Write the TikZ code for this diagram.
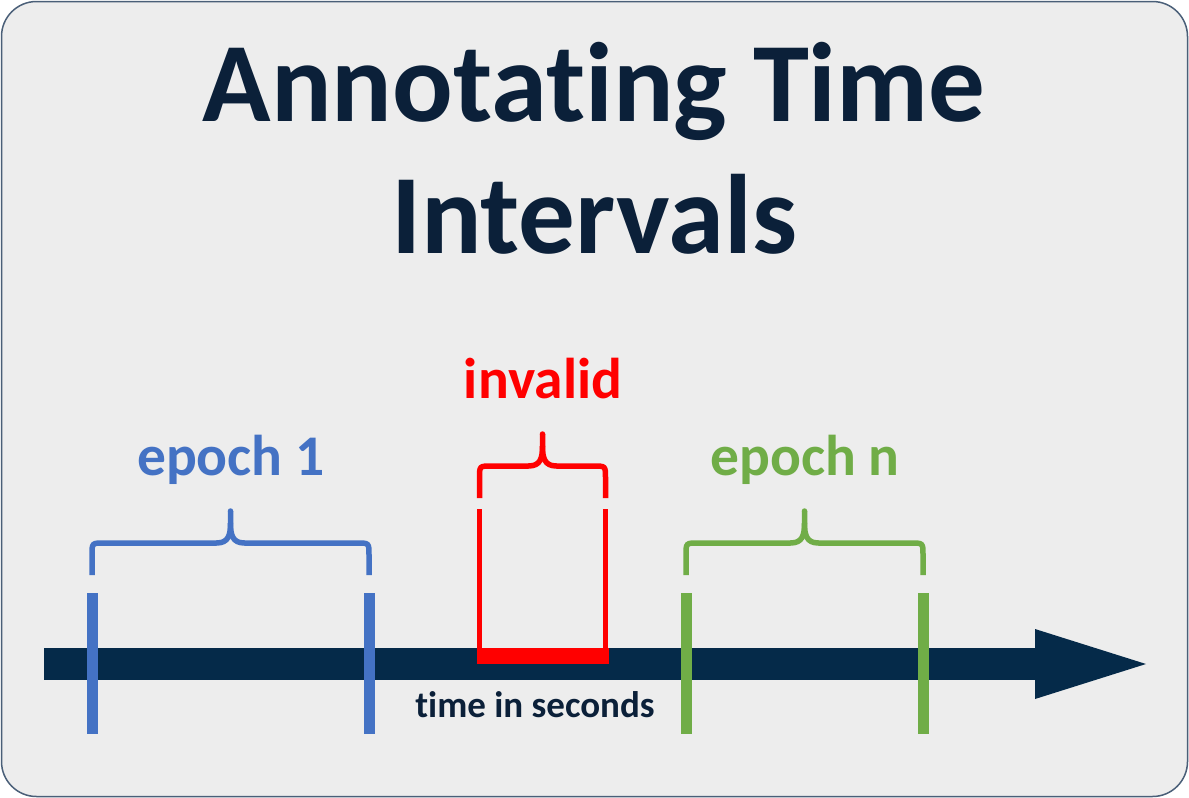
\documentclass[tikz,border=0pt]{standalone}
\usepackage{fontspec}
\setmainfont{Carlito}[Ligatures=NoCommon]
\usepackage{tikz}
\usetikzlibrary{calc}

\definecolor{framebg}{HTML}{EDEDED}
\definecolor{frameln}{HTML}{4A5F78}
\definecolor{titlecol}{HTML}{0B2039}
\definecolor{axiscol}{HTML}{052A49}
\definecolor{epblue}{HTML}{4472C4}
\definecolor{epgreen}{HTML}{70AD47}
\definecolor{invred}{HTML}{FF0000}

\begin{document}
\begin{tikzpicture}[
    x=1pt, y=-1pt,
    frame/.style={draw=frameln, line width=1.5pt, fill=framebg, rounded corners=35pt},
    ttl/.style={text=titlecol, align=center, inner sep=0pt,
                font=\fontsize{113}{132}\selectfont\bfseries},
    lbl/.style={anchor=base, inner sep=0pt, font=\fontsize{57.5}{60}\selectfont\bfseries},
    axlbl/.style={anchor=base, inner sep=0pt, text=titlecol,
                  font=\fontsize{37}{40}\selectfont\bfseries},
    tickbar/.style={line width=11pt},
    redside/.style={line width=5.5pt, invred},
    bracepath/.style={line width=5.5pt, line join=round},
]
\useasboundingbox (0,0) rectangle (1189,798);
\draw[frame] (1.5,1.5) rectangle (1187.5,796.5);

%% Titel
\node[ttl, anchor=base] (title) at (594,253) {Annotating Time\\Intervals};

%% Zeitachse
\coordinate (t0) at (44,664);
\coordinate (tb) at (1035,664);
\coordinate (t1) at (1146,664);
\draw[axiscol, line width=32pt] (t0) -- (tb);
\fill[axiscol] ($(tb)+(0,-35)$) -- (t1) -- ($(tb)+(0,35)$) -- cycle;
\node[axlbl] (axis) at (535,717) {time in seconds};

%% Epochen-Grenzen
\foreach \col/\xx in {epblue/92, epblue/369, epgreen/686, epgreen/923}
  \draw[tickbar, \col] (\xx,593) -- (\xx,734);

%% ungueltiges Intervall
\coordinate (inva) at (479.5,509);
\coordinate (invb) at (605.5,509);
\draw[redside] (inva) -- (inva |- 0,650);
\draw[redside] (invb) -- (invb |- 0,650);
\fill[invred] (476.5,648) rectangle (608.5,664);

%% Klammern
\foreach \col/\xl/\xr/\yb in {epblue/92/369/575, invred/479.5/605.5/498, epgreen/686/923/575} {
  \pgfmathsetmacro\xc{(\xl+\xr)/2}
  \draw[bracepath, \col] (\xl,\yb) -- (\xl,\yb-20) .. controls (\xl,\yb-32) .. (\xl+12,\yb-32)
    -- (\xc-14,\yb-32) .. controls (\xc-2,\yb-32) and (\xc,\yb-40) .. (\xc,\yb-52) -- (\xc,\yb-64);
  \draw[bracepath, \col] (\xr,\yb) -- (\xr,\yb-20) .. controls (\xr,\yb-32) .. (\xr-12,\yb-32)
    -- (\xc+14,\yb-32) .. controls (\xc+2,\yb-32) and (\xc,\yb-40) .. (\xc,\yb-52);
  \fill[\col] (\xc,\yb-64) circle (2.75);
}

%% Beschriftungen
\node[lbl, text=epblue]  (ep1) at (231,475) {epoch 1};
\node[lbl, text=invred]  (inv) at (543,398) {invalid};
\node[lbl, text=epgreen] (epn) at (805,475) {epoch n};

\end{tikzpicture}
\end{document}
